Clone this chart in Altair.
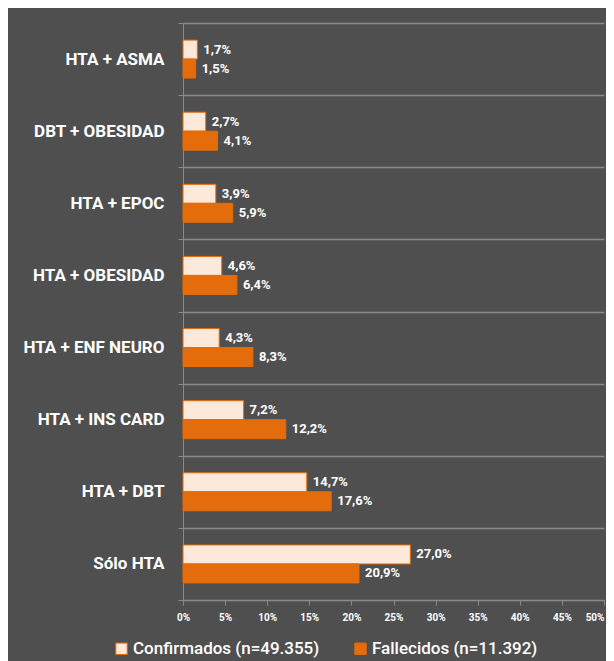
import altair as alt
import pandas as pd

categories = ["HTA + ASMA", "DBT + OBESIDAD", "HTA + EPOC", "HTA + OBESIDAD",
              "HTA + ENF NEURO", "HTA + INS CARD", "HTA + DBT", "Sólo HTA"]
confirmados = [1.7, 2.7, 3.9, 4.6, 4.3, 7.2, 14.7, 27.0]
fallecidos = [1.5, 4.1, 5.9, 6.4, 8.3, 12.2, 17.6, 20.9]
series = ["Confirmados (n=49.355)", "Fallecidos (n=11.392)"]
x_ticks = [0, 0.05, 0.10, 0.15, 0.20, 0.25, 0.30, 0.35, 0.40, 0.45, 0.50]

rows = []
for c, a, b in zip(categories, confirmados, fallecidos):
    for s, v in zip(series, (a, b)):
        rows.append({"cat": c, "serie": s, "val": v / 100.0,
                     "label": f"{v:.1f}".replace(".", ",") + "%"})
df = pd.DataFrame(rows)

FONT = "Roboto, sans-serif"
BG = "#4f4f4f"
GRID = "#8a8a8a"

y_enc = alt.Y("cat:N", sort=categories, title=None,
              scale=alt.Scale(paddingInner=0, paddingOuter=0),
              axis=alt.Axis(tickBand="extent", grid=True, gridColor=GRID,
                            gridWidth=1.5, domainColor=GRID, tickColor=GRID,
                            tickSize=5, labelColor="white", labelFont=FONT,
                            labelFontWeight="bold", labelFontSize=17,
                            labelPadding=14, labelLimit=200))
yoff = alt.YOffset("serie:N", sort=series,
                   scale=alt.Scale(paddingInner=0, paddingOuter=0.9))
x_enc = alt.X("val:Q", title=None,
              scale=alt.Scale(domain=[0, 0.5], nice=False),
              axis=alt.Axis(values=x_ticks, format=".0%", grid=False,
                            domainColor=GRID, tickColor=GRID, tickSize=5,
                            labelColor="white", labelFont=FONT,
                            labelFontWeight="bold", labelFontSize=10,
                            labelPadding=7, labelFlush=False,
                            labelAlign={"condition": {"test": "datum.value >= 0.5",
                                                      "value": "right"},
                                        "value": "center"}))

bars = alt.Chart(df).mark_bar(stroke="#e46c0a", strokeWidth=1).encode(
    y=y_enc, yOffset=yoff, x=x_enc,
    color=alt.Color("serie:N", sort=series, title=None,
                    scale=alt.Scale(domain=series, range=["#fde9d9", "#e46c0a"]),
                    legend=alt.Legend(orient="none", legendX=-70, legendY=617,
                                      direction="horizontal", symbolType="square",
                                      symbolSize=130, symbolStrokeWidth=1,
                                      labelColor="white", labelFont=FONT,
                                      labelFontWeight=500,
                                      labelFontSize=17, labelLimit=300,
                                      columnPadding=32, labelOffset=3)),
)

texts = alt.Chart(df).mark_text(align="left", baseline="middle", dx=6,
                                color="white", font=FONT, fontWeight="bold",
                                fontSize=13).encode(
    y=alt.Y("cat:N", sort=categories), yOffset=yoff, x="val:Q", text="label:N")

chart = alt.layer(bars, texts).properties(
    width=421, height=577,
    background=BG,
    padding={"left": 175, "top": 15, "right": 2, "bottom": 61},
    autosize=alt.AutoSizeParams(type="none"),
).configure_view(stroke=None)

chart.save("out.html", embed_options={"renderer": "svg", "actions": False})
